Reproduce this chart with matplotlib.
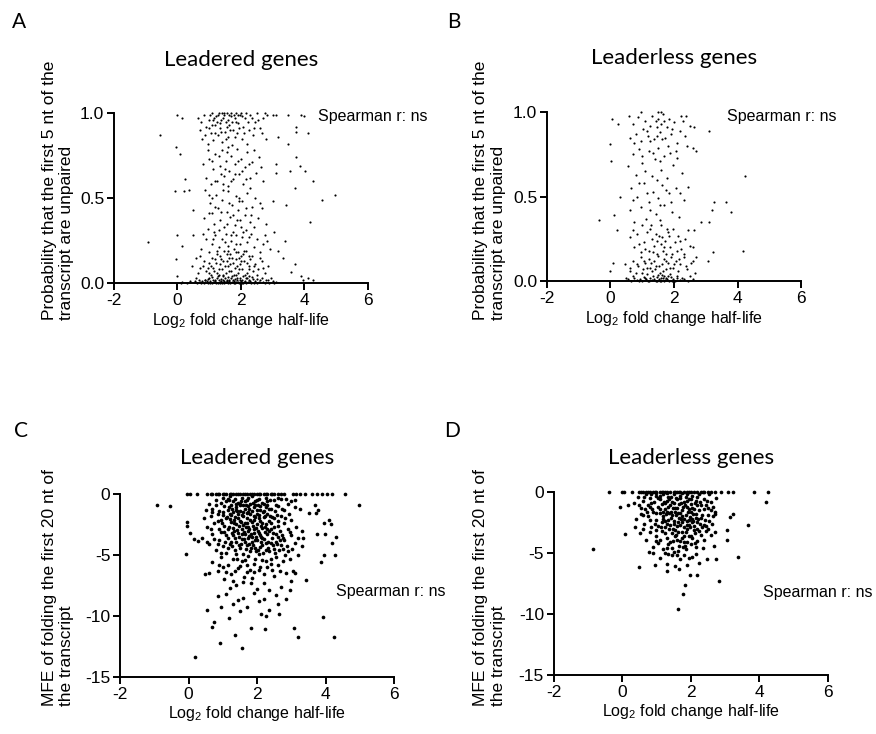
import numpy as np
import matplotlib
matplotlib.use('Agg')
import matplotlib.pyplot as plt

plt.rcParams['font.family'] = ['Liberation Sans', 'DejaVu Sans']
plt.rcParams['axes.unicode_minus'] = False
plt.rcParams['mathtext.default'] = 'regular'

# panel A: leadered genes, probability first 5 nt unpaired vs log2 FC half-life
a_pts = [
    # near zero
    (0.55, 0.01), (0.62, 0.0), (0.68, 0.02), (0.72, 0.005), (0.78, 0.01), (0.83, 0.0), (0.88, 0.02),
    (0.92, 0.01), (0.97, 0.0), (1.0, 0.03), (1.04, 0.01), (1.08, 0.0), (1.12, 0.02), (1.16, 0.005),
    (1.2, 0.01), (1.24, 0.03), (1.27, 0.0), (1.31, 0.015), (1.35, 0.005), (1.38, 0.025), (1.42, 0.0),
    (1.46, 0.01), (1.5, 0.03), (1.53, 0.005), (1.57, 0.02), (1.6, 0.0), (1.64, 0.012), (1.68, 0.03),
    (1.71, 0.005), (1.75, 0.018), (1.78, 0.0), (1.82, 0.025), (1.85, 0.008), (1.89, 0.015), (1.93, 0.0),
    (1.96, 0.03), (2.0, 0.01), (2.04, 0.02), (2.08, 0.0), (2.12, 0.012), (2.17, 0.028), (2.22, 0.005),
    (2.27, 0.018), (2.33, 0.0), (2.38, 0.022), (2.45, 0.01), (2.52, 0.0), (2.6, 0.015), (2.7, 0.005),
    (2.8, 0.02), (2.9, 0.0), (3.0, 0.01), (3.1, 0.005), (0.3, 0.0), (0.15, 0.005), (1.45, 0.04),
    (1.85, 0.045), (1.3, 0.05), (2.25, 0.04),
    (0.6, 0.03), (0.75, 0.0), (0.86, 0.015), (0.95, 0.025), (1.02, 0.0), (1.1, 0.035), (1.18, 0.02),
    (1.22, 0.0), (1.29, 0.04), (1.33, 0.0), (1.37, 0.01), (1.44, 0.02), (1.48, 0.0), (1.55, 0.01),
    (1.59, 0.035), (1.62, 0.02), (1.66, 0.0), (1.73, 0.04), (1.77, 0.01), (1.8, 0.0), (1.87, 0.03),
    (1.91, 0.005), (1.98, 0.02), (2.02, 0.0), (2.06, 0.04), (2.1, 0.005), (2.15, 0.0), (2.2, 0.03),
    (2.3, 0.01), (2.35, 0.035), (2.42, 0.0), (2.5, 0.025), (2.57, 0.005), (2.65, 0.03), (2.75, 0.0),
    (2.85, 0.015), (2.95, 0.03), (3.05, 0.0), (0.4, 0.01), (0.1, 0.0),
    # 0.04 - 0.2
    (0.65, 0.06), (0.8, 0.1), (0.9, 0.07), (1.0, 0.12), (1.05, 0.05), (1.12, 0.09), (1.2, 0.14),
    (1.25, 0.06), (1.33, 0.11), (1.4, 0.08), (1.45, 0.13), (1.52, 0.06), (1.58, 0.1), (1.63, 0.15),
    (1.7, 0.07), (1.75, 0.12), (1.8, 0.09), (1.86, 0.14), (1.92, 0.06), (1.98, 0.11), (2.05, 0.08),
    (2.1, 0.13), (2.18, 0.06), (2.24, 0.1), (2.3, 0.14), (2.38, 0.07), (2.45, 0.11), (2.55, 0.08),
    (2.65, 0.13), (2.75, 0.06), (1.1, 0.15), (1.55, 0.13), (1.95, 0.15), (0.95, 0.09), (2.85, 0.1),
    (0.7, 0.09), (0.85, 0.13), (0.98, 0.06), (1.07, 0.1), (1.15, 0.07), (1.22, 0.12), (1.3, 0.08),
    (1.37, 0.14), (1.43, 0.05), (1.5, 0.1), (1.56, 0.17), (1.61, 0.07), (1.67, 0.11), (1.72, 0.15),
    (1.78, 0.05), (1.83, 0.18), (1.89, 0.1), (1.94, 0.08), (2.0, 0.13), (2.08, 0.17), (2.14, 0.05),
    (2.2, 0.12), (2.27, 0.08), (2.34, 0.16), (2.42, 0.1), (2.5, 0.05), (2.6, 0.15), (2.7, 0.09),
    (1.25, 0.19), (1.6, 0.19), (2.15, 0.19), (0.6, 0.15),
    # 0.15 - 0.5
    (0.75, 0.2), (0.9, 0.26), (1.0, 0.18), (1.1, 0.23), (1.18, 0.28), (1.25, 0.17), (1.32, 0.21),
    (1.4, 0.26), (1.46, 0.19), (1.52, 0.29), (1.58, 0.22), (1.65, 0.17), (1.7, 0.25), (1.78, 0.2),
    (1.84, 0.28), (1.9, 0.18), (1.96, 0.23), (2.02, 0.27), (2.1, 0.19), (2.18, 0.24), (2.25, 0.16),
    (2.32, 0.29), (2.4, 0.21), (2.5, 0.26), (2.6, 0.18), (2.7, 0.23), (1.35, 0.16), (1.75, 0.3),
    (2.0, 0.16), (1.15, 0.3),
    (0.82, 0.29), (0.98, 0.41), (1.12, 0.26), (1.19, 0.45), (1.3, 0.31), (1.38, 0.42), (1.5, 0.24),
    (1.56, 0.35), (1.62, 0.47), (1.69, 0.28), (1.76, 0.4), (1.83, 0.23), (1.88, 0.37), (1.94, 0.48),
    (2.08, 0.3), (2.16, 0.44), (2.24, 0.27), (2.32, 0.4), (2.42, 0.33), (2.6, 0.47), (2.75, 0.28),
    (1.1, 0.5), (1.95, 0.5), (2.0, 0.33),
    (0.85, 0.38), (0.95, 0.32), (1.02, 0.47), (1.08, 0.41), (1.15, 0.35), (1.22, 0.52), (1.28, 0.44),
    (1.35, 0.37), (1.42, 0.49), (1.48, 0.33), (1.55, 0.42), (1.6, 0.54), (1.67, 0.39), (1.73, 0.46),
    (1.8, 0.34), (1.86, 0.51), (1.92, 0.43), (1.98, 0.37), (2.05, 0.48), (2.12, 0.4), (2.2, 0.53),
    (2.28, 0.36), (2.36, 0.45), (2.45, 0.5), (2.55, 0.38), (2.68, 0.44), (2.8, 0.35), (1.0, 0.52),
    (1.45, 0.55), (2.15, 0.31),
    # 0.5 - 0.8
    (0.8, 0.7), (0.9, 0.62), (1.0, 0.73), (1.05, 0.58), (1.12, 0.67), (1.2, 0.76), (1.26, 0.6),
    (1.33, 0.69), (1.4, 0.78), (1.46, 0.63), (1.52, 0.72), (1.58, 0.57), (1.64, 0.66), (1.7, 0.75),
    (1.76, 0.61), (1.82, 0.7), (1.88, 0.79), (1.94, 0.64), (2.0, 0.73), (2.06, 0.58), (2.12, 0.68),
    (2.2, 0.77), (2.28, 0.62), (2.36, 0.71), (2.46, 0.65), (2.56, 0.74), (2.7, 0.6), (0.95, 0.78),
    (1.6, 0.8), (2.3, 0.56),
    (0.88, 0.55), (1.08, 0.72), (1.17, 0.6), (1.3, 0.75), (1.37, 0.64), (1.5, 0.67), (1.56, 0.77),
    (1.68, 0.6), (1.8, 0.64), (1.9, 0.72), (2.04, 0.66), (2.16, 0.61), (2.25, 0.7), (2.42, 0.78),
    (2.62, 0.68), (1.44, 0.58),
    # 0.8 - 1.0
    (0.65, 0.97), (0.7, 0.9), (0.78, 0.85), (0.85, 0.99), (0.9, 0.92), (0.95, 0.82), (1.0, 0.96),
    (1.05, 0.88), (1.1, 1.0), (1.13, 0.84), (1.18, 0.93), (1.22, 0.98), (1.27, 0.87), (1.3, 1.0),
    (1.35, 0.91), (1.38, 0.96), (1.42, 0.83), (1.46, 0.99), (1.5, 0.89), (1.53, 0.95), (1.57, 1.0),
    (1.6, 0.86), (1.64, 0.93), (1.68, 0.98), (1.72, 0.81), (1.76, 0.9), (1.8, 0.97), (1.84, 1.0),
    (1.88, 0.88), (1.92, 0.94), (1.97, 0.99), (2.02, 0.85), (2.07, 0.92), (2.12, 0.97), (2.18, 0.82),
    (2.24, 0.9), (2.3, 0.99), (2.38, 0.87), (2.45, 0.95), (2.52, 1.0), (2.6, 0.91), (2.7, 0.97),
    (2.78, 0.85), (1.4, 1.0), (1.7, 1.0), (2.0, 1.0), (1.25, 0.95), (1.55, 0.92),
    (0.75, 0.95), (0.88, 0.87), (1.03, 0.99), (1.08, 0.93), (1.16, 0.97), (1.2, 0.88), (1.28, 0.99),
    (1.33, 0.94), (1.37, 0.89), (1.44, 0.97), (1.48, 1.0), (1.52, 0.85), (1.58, 0.96), (1.62, 0.99),
    (1.66, 0.9), (1.73, 0.95), (1.78, 0.99), (1.82, 0.86), (1.86, 0.95), (1.9, 0.99), (1.95, 0.91),
    (2.05, 0.98), (2.1, 0.88), (2.15, 1.0), (2.22, 0.95), (2.35, 0.97), (2.42, 0.91), (2.55, 0.96),
    (2.65, 0.88), (2.75, 1.0), (0.98, 0.91), (1.12, 0.96),
    # outliers
    (0.0, 0.99), (0.14, 0.97), (-0.54, 0.87), (-0.04, 0.8), (0.08, 0.76), (0.24, 0.61), (-0.07, 0.54),
    (0.22, 0.54), (0.38, 0.55), (-0.94, 0.24), (-0.02, 0.28), (0.14, 0.22), (-0.05, 0.14), (0.0, 0.04),
    (0.5, 0.28), (0.72, 0.16), (0.45, 0.1), (0.5, 0.43), (4.97, 0.52), (4.55, 0.49), (4.27, 0.6),
    (4.19, 0.36), (4.01, 0.66), (3.85, 0.69), (3.75, 0.74), (3.7, 0.56), (3.49, 0.82), (3.75, 0.92),
    (3.75, 0.89), (4.12, 0.88), (3.9, 0.99), (4.0, 0.985), (3.49, 0.99), (3.54, 0.66), (3.43, 0.46),
    (3.1, 0.7), (3.1, 0.65), (3.02, 0.48), (3.04, 0.3), (3.17, 0.19), (3.33, 0.15), (3.38, 0.25),
    (3.7, 0.11), (3.59, 0.065), (3.9, 0.04), (4.1, 0.03), (4.27, 0.02), (3.96, 0.016), (2.81, 0.25),
    (2.91, 0.2), (3.17, 0.86), (3.1, 0.99), (3.0, 0.99), (2.81, 0.99),
]

# panel B: leaderless genes, probability first 5 nt unpaired
b_pts = [
    (0.55, 0.01), (0.65, 0.0), (0.75, 0.02), (0.85, 0.005), (0.92, 0.015), (1.0, 0.0), (1.06, 0.025),
    (1.12, 0.01), (1.18, 0.0), (1.24, 0.02), (1.3, 0.005), (1.36, 0.015), (1.42, 0.0), (1.48, 0.025),
    (1.54, 0.01), (1.6, 0.0), (1.66, 0.02), (1.72, 0.005), (1.78, 0.015), (1.84, 0.0), (1.9, 0.025),
    (1.96, 0.01), (2.02, 0.0), (2.1, 0.018), (2.2, 0.005), (2.32, 0.012), (2.45, 0.0), (2.6, 0.01),
    (1.5, 0.035), (1.7, 0.03),
    (0.5, 0.02), (0.62, 0.08), (0.72, 0.03), (0.82, 0.1), (0.9, 0.0), (0.98, 0.05), (1.04, 0.12),
    (1.1, 0.02), (1.16, 0.08), (1.22, 0.0), (1.28, 0.11), (1.34, 0.03), (1.4, 0.07), (1.46, 0.0),
    (1.52, 0.09), (1.58, 0.02), (1.64, 0.06), (1.7, 0.0), (1.76, 0.12), (1.82, 0.03), (1.88, 0.08),
    (1.94, 0.0), (2.0, 0.1), (2.08, 0.03), (2.15, 0.13), (2.25, 0.02), (2.38, 0.09), (2.5, 0.03),
    (2.6, 0.12), (1.62, 0.035), (1.55, 0.0), (1.75, 0.02),
    (0.45, 0.1), (0.6, 0.06), (0.7, 0.12), (0.8, 0.05), (0.88, 0.09), (0.95, 0.14), (1.02, 0.07),
    (1.08, 0.11), (1.14, 0.04), (1.2, 0.13), (1.26, 0.08), (1.32, 0.06), (1.38, 0.12), (1.44, 0.09),
    (1.5, 0.15), (1.56, 0.05), (1.62, 0.1), (1.68, 0.13), (1.74, 0.07), (1.8, 0.11), (1.86, 0.04),
    (1.92, 0.14), (1.98, 0.08), (2.05, 0.12), (2.12, 0.06), (2.2, 0.1), (2.3, 0.14), (2.42, 0.07),
    (2.55, 0.11), (2.65, 0.05),
    (0.6, 0.26), (0.75, 0.2), (0.85, 0.28), (0.95, 0.17), (1.05, 0.23), (1.15, 0.29), (1.22, 0.18),
    (1.3, 0.25), (1.38, 0.21), (1.45, 0.16), (1.52, 0.27), (1.58, 0.22), (1.65, 0.18), (1.72, 0.24),
    (1.8, 0.29), (1.88, 0.2), (1.95, 0.16), (2.02, 0.23), (2.12, 0.27), (2.22, 0.19), (2.35, 0.25),
    (2.5, 0.21),
    (0.7, 0.3), (0.9, 0.22), (1.0, 0.33), (1.1, 0.19), (1.25, 0.31), (1.35, 0.17), (1.48, 0.24),
    (1.6, 0.33), (1.68, 0.2), (1.75, 0.16), (1.85, 0.27), (1.98, 0.31), (2.08, 0.18), (2.18, 0.24),
    (2.3, 0.16), (2.45, 0.3), (1.42, 0.28), (1.62, 0.26),
    (0.6, 0.42), (0.65, 0.55), (0.75, 0.35), (0.85, 0.5), (0.95, 0.44), (1.05, 0.58), (1.12, 0.37),
    (1.2, 0.47), (1.28, 0.33), (1.35, 0.53), (1.42, 0.4), (1.5, 0.49), (1.57, 0.36), (1.63, 0.57),
    (1.7, 0.45), (1.78, 0.31), (1.85, 0.52), (1.95, 0.41), (2.05, 0.55), (2.15, 0.38), (2.3, 0.48),
    (2.45, 0.56),
    (0.7, 0.48), (0.9, 0.58), (1.15, 0.52), (1.25, 0.42), (1.45, 0.6), (1.55, 0.45), (1.75, 0.54),
    (1.9, 0.47), (2.2, 0.52),
    (0.55, 0.68), (0.7, 0.75), (0.8, 0.63), (0.9, 0.78), (1.0, 0.7), (1.1, 0.65), (1.2, 0.77),
    (1.3, 0.62), (1.4, 0.72), (1.5, 0.79), (1.6, 0.66), (1.68, 0.74), (1.78, 0.61), (1.88, 0.76),
    (1.98, 0.69), (2.1, 0.73), (2.25, 0.64), (2.4, 0.8),
    (0.6, 0.85), (0.7, 0.93), (0.8, 0.87), (0.88, 0.97), (0.95, 0.83), (1.02, 0.9), (1.1, 0.95),
    (1.18, 0.86), (1.25, 0.92), (1.32, 0.98), (1.38, 0.84), (1.45, 0.91), (1.5, 0.96), (1.55, 0.88),
    (1.6, 0.93), (1.66, 0.99), (1.72, 0.85), (1.78, 0.91), (1.85, 0.96), (1.92, 0.87), (2.0, 0.94),
    (2.1, 0.82), (2.2, 0.89), (2.35, 0.86), (2.5, 0.92),
    (0.75, 0.82), (0.98, 0.74), (1.15, 0.89), (1.35, 0.76), (1.42, 0.95), (1.55, 0.71), (1.62, 0.84),
    (1.7, 0.95), (1.82, 0.8), (1.95, 0.9), (2.05, 0.77), (2.28, 0.95), (1.48, 0.86), (1.58, 1.0),
    (1.25, 0.83),
    # outliers
    (0.05, 0.96), (0.23, 0.93), (0.0, 0.81), (0.02, 0.71), (-0.36, 0.36), (0.1, 0.39), (0.31, 0.5),
    (0.19, 0.3), (0.08, 0.11), (-0.02, 0.06), (3.09, 0.89), (4.23, 0.62), (3.26, 0.47), (3.65, 0.47),
    (3.81, 0.41), (3.21, 0.42), (3.11, 0.35), (2.85, 0.35), (3.23, 0.17), (4.17, 0.18), (3.06, 0.12),
    (2.7, 0.14), (2.59, 0.2), (2.64, 0.3), (2.69, 0.77), (2.59, 0.79), (2.64, 0.91), (2.38, 0.98),
    (2.23, 0.98), (0.96, 1.0), (1.5, 1.0), (0.57, 0.98),
]

# panel C: leadered genes, MFE of first 20 nt
c_pts = [
    # MFE = 0 row
    (-0.05, 0), (0.05, 0), (0.25, 0), (0.55, 0), (0.7, 0), (0.8, 0), (0.9, 0), (1.0, 0), (1.1, 0),
    (1.2, 0), (1.3, 0), (1.4, 0), (1.5, 0), (1.6, 0), (1.7, 0), (1.8, 0), (1.9, 0), (2.0, 0), (2.1, 0),
    (2.2, 0), (2.3, 0), (2.4, 0), (2.5, 0), (2.6, 0), (2.8, 0), (3.05, 0), (3.15, 0), (3.4, 0),
    (3.6, 0), (3.75, 0), (3.9, 0), (4.05, 0), (4.2, 0), (4.56, 0), (1.05, 0), (1.25, 0), (1.45, 0),
    (1.65, 0), (1.85, 0), (2.05, 0), (2.25, 0), (2.45, 0), (0.85, 0), (0.65, 0), (2.7, 0), (3.25, 0),
    # 0 to -1.5
    (0.6, -0.8), (0.7, -1.2), (0.8, -0.5), (0.9, -1.4), (1.0, -0.3), (1.05, -1.0), (1.1, -0.6),
    (1.15, -1.3), (1.2, -0.2), (1.25, -0.9), (1.3, -1.5), (1.35, -0.4), (1.4, -1.1), (1.45, -0.7),
    (1.5, -1.4), (1.55, -0.3), (1.6, -0.9), (1.65, -1.2), (1.7, -0.5), (1.75, -1.5), (1.8, -0.8),
    (1.85, -0.2), (1.9, -1.1), (1.95, -0.6), (2.0, -1.3), (2.05, -0.4), (2.1, -1.0), (2.15, -0.7),
    (2.2, -1.4), (2.25, -0.3), (2.3, -0.9), (2.4, -1.2), (2.5, -0.5), (2.6, -1.0), (2.7, -0.4),
    (2.8, -1.3), (2.9, -0.8), (3.0, -0.6), (3.1, -1.1), (0.5, -1.3),
    (0.95, -0.7), (1.02, -1.5), (1.18, -0.5), (1.28, -1.2), (1.38, -0.8), (1.43, -1.4), (1.52, -0.6),
    (1.67, -0.9), (1.77, -1.2), (1.87, -0.7), (2.02, -0.9), (2.27, -1.1), (2.52, -1.4), (2.72, -1.2),
    (2.0, -0.5), (1.75, -0.3), (1.5, -0.8), (2.3, -0.6), (2.6, -0.3), (2.85, -0.4), (3.1, -0.5),
    (3.25, -1.2), (0.7, -1.5), (0.8, -0.9),
    (1.14, -0.4), (1.19, -1.1), (1.29, -0.6), (1.39, -1.3), (1.49, -0.9), (1.59, -1.5), (1.64, -0.6),
    (1.74, -1.0), (1.84, -1.4), (1.94, -0.9), (2.09, -1.3), (2.19, -0.8), (2.34, -1.2), (2.39, -0.5),
    (2.54, -0.9),
    # -1.5 to -3
    (0.45, -2.0), (0.55, -2.7), (0.65, -1.8), (0.75, -2.4), (0.85, -1.6), (0.9, -2.9), (0.95, -2.1),
    (1.0, -1.7), (1.05, -2.6), (1.1, -2.0), (1.15, -2.9), (1.2, -1.6), (1.25, -2.3), (1.3, -2.8),
    (1.35, -1.9), (1.4, -2.5), (1.45, -1.6), (1.5, -2.2), (1.55, -2.9), (1.6, -1.8), (1.65, -2.4),
    (1.7, -2.0), (1.75, -2.7), (1.8, -1.6), (1.85, -2.3), (1.9, -2.9), (1.95, -1.9), (2.0, -2.5),
    (2.05, -1.7), (2.1, -2.2), (2.15, -2.8), (2.2, -1.9), (2.25, -2.5), (2.3, -1.6), (2.35, -2.2),
    (2.4, -2.9), (2.5, -2.0), (2.6, -2.6), (2.7, -1.8), (2.8, -2.4), (2.9, -2.9), (3.0, -2.1),
    (1.22, -2.05), (1.58, -2.55), (1.72, -1.55), (1.92, -2.15), (2.12, -2.6), (1.42, -2.95),
    (0.98, -2.35), (1.78, -2.85),
    (1.12, -1.9), (1.33, -2.1), (1.48, -2.6), (1.57, -1.7), (1.72, -2.4), (1.92, -1.8), (1.97, -2.8),
    (2.07, -2.0), (2.17, -1.5), (2.22, -2.7), (2.37, -1.8), (2.42, -2.4), (2.62, -2.2), (2.67, -3.0),
    (2.82, -2.0), (2.92, -1.6), (1.18, -2.7), (0.85, -2.2), (0.65, -2.9), (3.15, -2.7),
    (1.24, -1.7), (1.34, -2.4), (1.44, -2.0), (1.54, -2.3), (1.69, -2.7), (1.79, -2.1), (1.89, -2.6),
    (1.99, -1.6), (2.04, -3.0), (2.14, -2.4), (2.24, -1.8), (2.29, -2.9), (2.44, -1.9), (2.49, -2.7),
    (2.59, -1.7),
    # -3 to -5
    (0.4, -3.6), (0.6, -4.1), (0.7, -3.3), (0.8, -4.6), (0.9, -3.8), (1.0, -4.3), (1.05, -3.1),
    (1.1, -4.8), (1.15, -3.6), (1.2, -4.1), (1.3, -3.4), (1.35, -4.6), (1.4, -3.9), (1.45, -3.2),
    (1.5, -4.4), (1.55, -3.7), (1.6, -4.9), (1.65, -3.3), (1.7, -4.2), (1.75, -3.6), (1.8, -4.7),
    (1.85, -3.9), (1.9, -3.2), (1.95, -4.4), (2.0, -3.8), (2.05, -4.9), (2.1, -3.4), (2.15, -4.2),
    (2.2, -3.7), (2.25, -4.6), (2.3, -3.3), (2.4, -4.0), (2.5, -4.5), (2.6, -3.5), (2.7, -4.2),
    (2.8, -3.8), (2.9, -4.7), (3.0, -3.4), (3.1, -4.0), (3.2, -3.6), (1.88, -4.15), (1.98, -3.55),
    (2.08, -4.35), (1.78, -3.45), (1.68, -4.55), (2.18, -4.85), (1.28, -4.25), (2.35, -3.05),
    (0.95, -3.15), (2.55, -3.95),
    (1.62, -3.1), (1.82, -3.3), (2.12, -3.5), (2.32, -3.9), (2.47, -3.2), (2.57, -4.1), (2.77, -3.6),
    (2.87, -4.3), (2.97, -3.1), (3.02, -4.5), (1.08, -3.4), (1.23, -3.9), (1.33, -3.0), (1.38, -4.9),
    (1.48, -3.5), (1.53, -4.1), (1.63, -3.7), (1.73, -3.0), (1.83, -4.4), (1.93, -3.8), (2.03, -4.6),
    (2.13, -3.9), (2.23, -3.1), (2.33, -4.4), (2.43, -3.6), (2.53, -4.8), (2.63, -4.6), (2.73, -3.4),
    (2.83, -5.0), (0.75, -3.7), (0.55, -3.9), (3.3, -3.0), (3.3, -4.3), (3.35, -3.6),
    (1.26, -3.2), (1.36, -3.6), (1.46, -4.2), (1.56, -3.3), (1.66, -3.9), (1.76, -4.1), (1.86, -3.5),
    (1.96, -4.7), (2.06, -3.2), (2.16, -3.6), (2.26, -4.0), (2.36, -4.7), (2.46, -4.2), (2.56, -3.3),
    (2.66, -3.8), (2.76, -4.5), (1.16, -4.4), (1.06, -3.9), (0.86, -4.1), (0.96, -4.8),
    # -5 to -8
    (0.7, -5.6), (0.85, -6.3), (0.95, -5.2), (1.05, -7.0), (1.15, -5.8), (1.25, -6.6), (1.3, -5.3),
    (1.4, -7.5), (1.45, -6.1), (1.55, -5.5), (1.6, -7.2), (1.7, -6.4), (1.75, -5.1), (1.85, -6.9),
    (1.9, -5.7), (2.0, -7.8), (2.05, -6.2), (2.15, -5.4), (2.2, -7.3), (2.3, -6.0), (2.4, -5.3),
    (2.5, -6.7), (2.6, -5.8), (2.7, -7.6), (2.85, -6.5), (2.95, -5.3), (3.05, -6.3), (3.0, -7.1),
    (1.2, -7.7), (2.35, -7.9), (0.6, -6.5),
    (1.5, -5.9), (1.65, -5.4), (1.8, -6.2), (1.95, -5.3), (2.1, -6.0), (2.25, -5.5), (2.45, -6.2),
    (2.55, -5.2), (2.75, -5.5), (1.35, -6.3), (1.1, -6.4), (0.9, -5.8), (3.2, -5.0), (3.1, -6.5),
    (1.41, -5.3), (1.71, -5.8), (1.91, -6.4), (2.21, -6.6), (2.41, -5.7), (1.61, -6.8), (1.81, -7.3),
    (1.31, -7.1), (2.66, -6.3), (1.01, -6.0),
    # -8 to -10
    (0.85, -8.4), (0.95, -9.3), (1.1, -8.2), (1.3, -9.0), (1.45, -8.7), (1.6, -8.5), (1.7, -9.3),
    (1.9, -8.1), (2.05, -8.8), (2.2, -8.6), (2.35, -9.5), (2.55, -8.3), (2.85, -8.6), (2.95, -7.9),
    (1.5, -9.6), (2.6, -9.0),
    # outliers
    (-0.93, -0.9), (-0.54, -1.0), (-0.07, -4.9), (-0.05, -2.3), (-0.04, -2.6), (0.2, -13.35),
    (0.93, -12.25), (1.56, -12.6), (1.35, -11.6), (0.7, -10.9), (0.54, -9.5), (0.74, -10.5),
    (1.18, -10.2), (1.82, -10.95), (2.24, -11.1), (2.11, -9.8), (2.25, -10.0), (2.63, -9.85),
    (3.09, -11.0), (3.19, -11.75), (3.92, -10.1), (4.26, -11.7), (4.98, -0.9), (3.43, -7.05),
    (3.87, -5.55), (4.29, -5.0), (3.95, -5.0), (4.31, -3.55), (4.2, -4.05), (3.99, -3.3),
    (3.75, -3.25), (3.95, -2.4), (4.1, -2.1), (4.15, -2.5), (3.68, -0.9), (3.73, -1.55),
    (3.78, -1.3), (3.53, -1.55), (0.15, -3.7), (0.29, -3.85), (0.05, -3.2), (0.49, -6.6),
]

# panel D: leaderless genes, MFE of first 20 nt
d_pts = [
    (0.0, 0), (0.05, 0), (0.3, 0), (0.5, 0), (0.55, 0), (0.6, 0), (0.7, 0), (0.75, 0), (0.8, 0),
    (0.9, 0), (1.0, 0), (1.1, 0), (1.15, 0), (1.2, 0), (1.3, 0), (1.4, 0), (1.5, 0), (1.55, 0),
    (1.6, 0), (1.7, 0), (1.8, 0), (1.9, 0), (2.0, 0), (2.1, 0), (2.2, 0), (2.3, 0), (2.4, 0),
    (2.5, 0), (2.6, 0), (2.7, 0), (0.95, 0), (1.25, 0), (1.65, 0), (1.95, 0), (2.35, 0),
    (1.3, -0.1), (1.75, -0.1), (2.25, -0.2), (1.0, -0.1), (1.9, -0.2), (2.55, -0.2), (0.85, -0.2),
    (0.35, -0.9), (0.45, -0.4), (0.55, -1.3), (0.6, -0.7), (0.7, -0.2), (0.75, -1.1), (0.8, -0.5),
    (0.88, -1.4), (0.92, -0.8), (1.0, -0.3), (1.05, -1.2), (1.1, -0.6), (1.15, -1.0), (1.2, -0.2),
    (1.25, -1.4), (1.3, -0.7), (1.35, -0.4), (1.4, -1.1), (1.45, -0.8), (1.5, -0.2), (1.55, -1.3),
    (1.6, -0.6), (1.65, -1.0), (1.7, -0.3), (1.75, -1.5), (1.8, -0.8), (1.85, -0.4), (1.9, -1.2),
    (1.95, -0.6), (2.0, -1.0), (2.05, -0.3), (2.1, -1.4), (2.15, -0.7), (2.2, -0.4), (2.3, -1.1),
    (2.4, -0.6), (2.5, -1.3), (2.6, -0.8), (2.65, -1.2), (2.75, -0.5),
    (0.65, -0.4), (0.72, -1.6), (0.85, -0.9), (0.98, -1.7), (1.05, -0.5), (1.12, -1.4), (1.22, -0.8),
    (1.28, -1.8), (1.38, -0.6), (1.42, -1.6), (1.52, -0.9), (1.58, -1.9), (1.68, -0.5), (1.78, -1.2),
    (1.88, -0.7), (1.92, -1.6), (2.02, -0.6), (2.08, -1.8), (2.18, -1.1), (2.28, -0.8), (2.38, -1.4),
    (2.48, -0.7), (2.58, -1.5), (2.7, -1.8), (0.5, -1.1), (1.6, -1.3), (1.35, -1.2), (2.05, -1.3),
    (1.12, -0.3), (1.18, -1.6), (1.24, -0.9), (1.36, -1.7), (1.44, -0.4), (1.48, -1.3), (1.56, -0.5),
    (1.64, -1.7), (1.72, -0.9), (1.84, -1.1), (1.96, -1.4), (2.12, -0.9), (2.24, -1.5), (2.44, -1.1),
    (0.82, -1.2), (0.68, -1.4),
    (0.4, -2.2), (0.55, -1.8), (0.65, -2.6), (0.75, -2.0), (0.85, -2.9), (0.9, -1.6), (1.0, -2.3),
    (1.05, -2.8), (1.1, -1.7), (1.15, -2.5), (1.2, -2.0), (1.25, -2.9), (1.3, -1.6), (1.35, -2.3),
    (1.4, -2.7), (1.45, -1.9), (1.5, -2.4), (1.55, -1.6), (1.6, -2.8), (1.65, -2.1), (1.7, -1.7),
    (1.75, -2.5), (1.8, -2.9), (1.85, -1.9), (1.9, -2.4), (1.95, -2.7), (2.0, -1.6), (2.05, -2.2),
    (2.1, -2.8), (2.15, -1.8), (2.2, -2.5), (2.3, -2.1), (2.4, -2.7), (2.5, -1.9), (2.55, -2.4),
    (2.65, -2.0), (1.82, -2.25), (1.62, -2.45), (1.98, -2.05), (1.42, -2.15),
    (1.18, -2.2), (1.32, -2.6), (1.48, -3.0), (1.62, -3.3), (1.72, -2.2), (1.82, -3.6), (1.98, -2.9),
    (2.12, -3.4), (2.22, -2.2), (2.32, -2.9), (2.42, -2.3), (2.52, -3.0), (2.62, -2.6), (2.72, -3.3),
    (0.95, -2.6), (0.8, -2.3), (0.6, -1.9),
    (1.76, -2.0), (1.88, -2.7), (2.04, -2.5), (2.16, -2.1), (2.34, -1.9), (2.46, -2.8), (1.14, -2.9),
    (1.26, -2.4), (1.52, -2.6), (1.68, -2.7), (1.94, -2.3), (2.08, -2.4), (2.28, -2.6),
    (0.7, -3.9), (0.8, -3.3), (0.9, -4.5), (1.0, -3.6), (1.05, -4.2), (1.15, -3.2), (1.2, -4.7),
    (1.3, -3.8), (1.35, -4.3), (1.45, -3.4), (1.5, -4.9), (1.6, -3.9), (1.65, -4.4), (1.75, -3.3),
    (1.8, -4.1), (1.85, -4.7), (1.95, -3.6), (2.0, -4.3), (2.1, -3.1), (2.2, -4.0), (2.3, -3.5),
    (2.35, -4.6), (2.45, -3.2), (1.55, -3.15), (1.9, -3.05),
    (1.0, -3.1), (1.1, -3.9), (1.25, -3.4), (1.4, -4.1), (1.55, -3.6), (1.7, -4.0), (1.78, -4.5),
    (1.9, -4.1), (2.05, -3.8), (2.15, -4.5), (2.25, -3.2), (2.4, -3.9), (1.45, -4.6),
    (1.38, -3.0), (1.58, -3.5), (1.74, -3.8), (1.86, -3.3), (2.02, -3.6), (2.18, -3.0), (1.32, -4.6),
    (1.48, -4.0), (1.62, -4.8), (1.84, -4.4), (2.12, -4.2), (0.98, -4.0), (0.62, -3.0),
    (1.1, -5.4), (1.3, -5.9), (1.45, -5.2), (1.55, -6.1), (1.7, -5.5), (1.8, -5.2), (1.9, -6.0),
    (2.05, -5.3), (2.25, -5.8), (1.35, -5.1), (1.65, -6.3), (1.6, -5.2), (1.95, -5.4), (2.15, -5.1),
    (1.25, -5.0), (0.9, -5.0),
    # outliers
    (-0.86, -4.7), (-0.37, 0), (0.09, -3.47), (0.5, -6.15), (0.96, -5.96), (1.3, -6.5), (1.64, -9.6),
    (1.77, -8.4), (1.83, -7.6), (1.98, -6.8), (2.19, -6.8), (2.83, -7.3), (3.39, -5.3), (3.07, -3.96),
    (3.07, -3.09), (3.68, -2.68), (3.24, -1.78), (3.15, -2.05), (4.21, -0.82), (4.26, 0), (3.84, 0),
    (3.24, 0), (3.1, 0), (2.9, 0), (2.74, -5.5), (2.47, -5.5), (2.68, -4.4), (2.6, -3.55),
    (2.71, -1.64), (0.18, -1.1), (-0.06, -1.23), (0.38, -2.87), (0.52, -3.4), (0.77, -4.9),
]

panel_letters = ['A', 'B', 'C', 'D']
titles = ['Leadered genes', 'Leaderless genes', 'Leadered genes', 'Leaderless genes']
ylabels = ['Probability that the first 5 nt of the\ntranscript are unpaired',
           'Probability that the first 5 nt of the\ntranscript are unpaired',
           'MFE of folding the first 20 nt of\nthe transcript',
           'MFE of folding the first 20 nt of\nthe transcript']
xlabel = 'Log$_2$ fold change half-life'
stat_text = 'Spearman r: ns'

fig = plt.figure(figsize=(8.76, 7.34), dpi=100)

# axes rectangles [left, bottom, width, height] in figure fraction
rects = [[0.130, 0.6144, 0.290, 0.2316],
         [0.6244, 0.617, 0.290, 0.2302],
         [0.137, 0.0777, 0.3128, 0.2493],
         [0.632, 0.0804, 0.3128, 0.2493]]
letter_pos = [(0.014, 0.970), (0.510, 0.970), (0.016, 0.413), (0.507, 0.413)]
title_y = [0.918, 0.921, 0.376, 0.376]
ylab_pos = [(0.066, 0.741), (0.559, 0.741), (0.066, 0.199), (0.559, 0.199)]
stat_pos = [(4.43, 0.98), (3.67, 0.975), (4.31, -8.03), (4.10, -8.2)]

panels = [a_pts, b_pts, c_pts, d_pts]

for i, pts in enumerate(panels):
    ax = fig.add_axes(rects[i])
    xs = np.array([p[0] for p in pts])
    ys = np.array([p[1] for p in pts])
    if i < 2:
        ax.scatter(xs, ys, s=2.4, c='black', linewidths=0, clip_on=False, zorder=3)
        ax.set_ylim(0, 1)
        ax.set_yticks([0, 0.5, 1.0])
        ax.set_yticklabels(['0.0', '0.5', '1.0'])
    else:
        ax.scatter(xs, ys, s=7, c='black', linewidths=0, clip_on=False, zorder=3)
        ax.set_ylim(-15, 0)
        ax.set_yticks([0, -5, -10, -15])
    ax.set_xlim(-2, 6)
    ax.set_xticks([-2, 0, 2, 4, 6])
    for s in ['top', 'right']:
        ax.spines[s].set_visible(False)
    for s in ['left', 'bottom']:
        ax.spines[s].set_linewidth(1.4)
    ax.tick_params(direction='out', length=5, width=1.4, labelsize=12.5, pad=2)
    ax.set_xlabel(xlabel, fontsize=11.5, labelpad=2)
    ax.text(stat_pos[i][0], stat_pos[i][1], stat_text, fontsize=11.5, ha='left', va='center',
            clip_on=False)
    bb = ax.get_position()
    fig.text((bb.x0 + bb.x1) / 2, title_y[i], titles[i], family=['Lato', 'DejaVu Sans'],
             fontsize=16, ha='center', va='center')
    fig.text(ylab_pos[i][0], ylab_pos[i][1], ylabels[i], rotation=90, fontsize=12.5,
             ha='center', va='center', multialignment='left')
    fig.text(letter_pos[i][0], letter_pos[i][1], panel_letters[i], family=['Lato', 'DejaVu Sans'],
             fontsize=15, ha='left', va='center')

fig.savefig('out.png', dpi=100)
